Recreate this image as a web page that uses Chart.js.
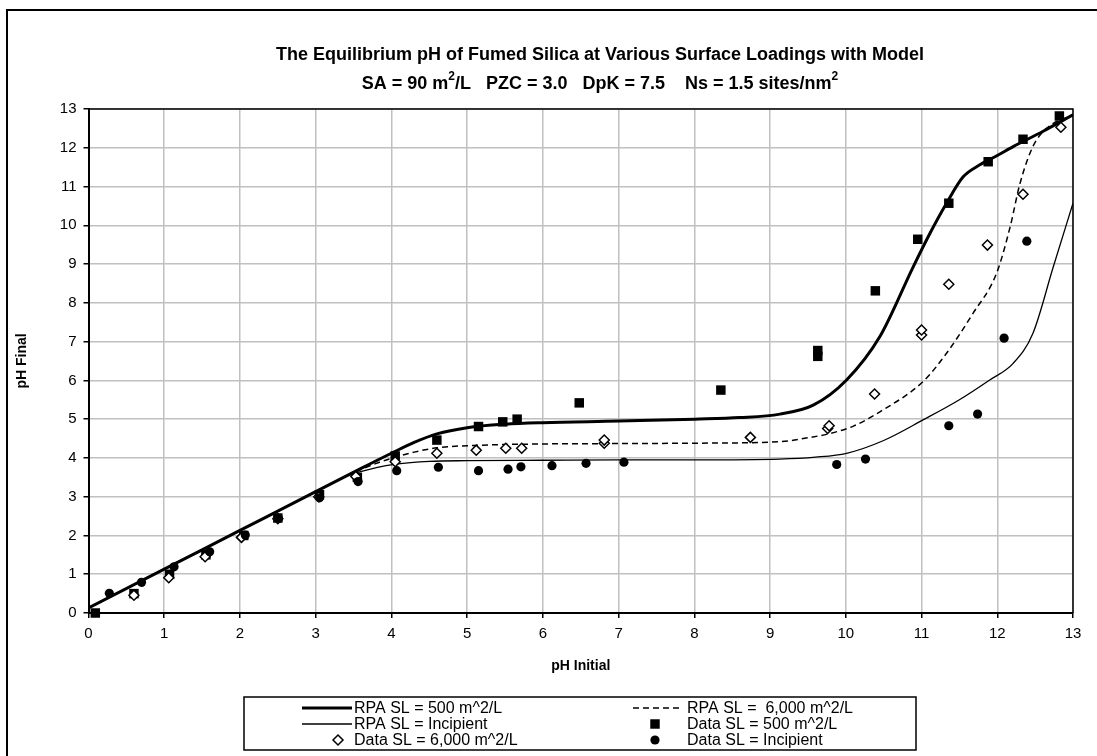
<!DOCTYPE html>
<html>
<head>
<meta charset="utf-8">
<title>Equilibrium pH of Fumed Silica</title>
<script src="https://cdn.jsdelivr.net/npm/chart.js@4.4.1/dist/chart.umd.min.js"></script>
<style>
  html, body { margin: 0; padding: 0; background: #fff; }
  #wrap { width: 1097px; height: 756px; }
</style>
</head>
<body>
<div id="wrap"><canvas id="chart" width="1097" height="756"></canvas></div>
<script>
// Textos
const titleLine = "The Equilibrium pH of Fumed Silica at Various Surface Loadings with Model";
const subtitleParts = [["SA = 90 m", false], ["2", true], ["/L   PZC = 3.0   DpK = 7.5    Ns = 1.5 sites/nm", false], ["2", true]];
const xTitle = "pH Initial";
const yTitle = "pH Final";
const tickValues = [0, 1, 2, 3, 4, 5, 6, 7, 8, 9, 10, 11, 12, 13];

// Curvas del modelo (RPA)
const rpa500X = [0, 1, 2, 3, 3.6, 4.0, 4.3, 4.6, 5.0, 5.5, 6.0, 7.0, 8.0, 8.6, 9.13, 9.57, 10.01, 10.45, 10.89, 11.11, 11.33, 11.55, 11.77, 12.0, 12.21, 12.6, 13];
const rpa500Y = [0.13, 1.13, 2.13, 3.13, 3.73, 4.12, 4.40, 4.62, 4.78, 4.87, 4.91, 4.95, 5.0, 5.04, 5.13, 5.36, 6.01, 7.13, 8.93, 9.79, 10.57, 11.25, 11.56, 11.8, 12.03, 12.42, 12.85];

const rpa6000X = [0, 1, 2, 3, 3.5, 3.8, 4.0, 4.3, 4.6, 5.2, 6.0, 7.0, 8.0, 9.13, 9.5, 9.79, 10.1, 10.45, 11.02, 11.33, 11.68, 11.99, 12.17, 12.3, 12.47, 12.65, 13];
const rpa6000Y = [0.13, 1.13, 2.13, 3.13, 3.62, 3.86, 3.99, 4.15, 4.26, 4.33, 4.36, 4.37, 4.38, 4.42, 4.52, 4.63, 4.82, 5.19, 5.97, 6.70, 7.73, 8.76, 9.96, 11.08, 12.03, 12.5, 12.85];

const rpaIncX = [0, 1, 2, 3, 3.45, 3.8, 4.06, 4.5, 5.0, 6.0, 7.0, 8.0, 9.13, 9.6, 10.01, 10.5, 11.02, 11.5, 11.9, 12.21, 12.47, 12.74, 13];
const rpaIncY = [0.13, 1.13, 2.13, 3.13, 3.56, 3.75, 3.84, 3.91, 3.93, 3.94, 3.95, 3.95, 3.97, 4.02, 4.12, 4.45, 4.98, 5.5, 6.01, 6.44, 7.21, 8.93, 10.57];

// Datos medidos
const data500X = [0.09, 0.6, 1.07, 1.55, 2.05, 2.5, 3.05, 3.55, 4.05, 4.6, 5.15, 5.47, 5.66, 6.48, 8.35, 9.63, 9.63, 10.39, 10.95, 11.36, 11.88, 12.34, 12.82];
const data500Y = [0, 0.5, 1.0, 1.5, 2.0, 2.45, 3.05, 3.5, 4.05, 4.46, 4.81, 4.93, 5.0, 5.42, 5.75, 6.62, 6.77, 8.31, 9.64, 10.57, 11.64, 12.22, 12.82];

const data6000X = [0.6, 1.06, 1.54, 2.02, 2.5, 3.04, 3.53, 4.05, 4.6, 5.12, 5.51, 5.72, 6.81, 6.81, 8.74, 9.76, 9.78, 10.38, 11.0, 11.0, 11.36, 11.87, 12.34, 12.84];
const data6000Y = [0.46, 0.91, 1.45, 1.95, 2.43, 3.0, 3.52, 3.90, 4.12, 4.20, 4.25, 4.25, 4.38, 4.46, 4.53, 4.76, 4.83, 5.65, 7.17, 7.30, 8.48, 9.49, 10.80, 12.53];

const dataIncX = [0.275, 0.70, 1.13, 1.60, 2.07, 2.51, 3.05, 3.56, 4.07, 4.62, 5.15, 5.54, 5.71, 6.12, 6.57, 7.07, 9.88, 10.26, 11.36, 11.74, 12.09, 12.39];
const dataIncY = [0.51, 0.79, 1.19, 1.58, 2.01, 2.44, 2.97, 3.39, 3.67, 3.76, 3.67, 3.71, 3.77, 3.80, 3.86, 3.89, 3.83, 3.97, 4.83, 5.13, 7.09, 9.59];

const pts = (xs, ys) => xs.map((x, i) => ({ x: x, y: ys[i] }));

const FONT = 'Arial, "Liberation Sans", sans-serif';
Chart.defaults.font.family = FONT;
Chart.defaults.color = '#000';

// Fondo y marco exterior
const framePlugin = {
    id: 'frame',
    beforeDraw(chart) {
        const ctx = chart.ctx;
        ctx.save();
        ctx.fillStyle = '#fff';
        ctx.fillRect(0, 0, chart.width, chart.height);
        ctx.strokeStyle = '#000';
        ctx.lineWidth = 2;
        ctx.strokeRect(7, 10, chart.width + 50, chart.height + 50);
        ctx.restore();
    },
    beforeDatasetsDraw(chart) {
        // borde superior y derecho del área del gráfico
        const a = chart.chartArea;
        const ctx = chart.ctx;
        ctx.save();
        ctx.strokeStyle = '#000';
        ctx.lineWidth = 1.5;
        ctx.beginPath();
        ctx.moveTo(a.left, a.top);
        ctx.lineTo(a.right, a.top);
        ctx.lineTo(a.right, a.bottom);
        ctx.stroke();
        ctx.restore();
    }
};

// Título con superíndices
const titlePlugin = {
    id: 'richTitle',
    afterDraw(chart) {
        const ctx = chart.ctx;
        const cx = 600;
        const big = 'bold 18px ' + FONT;
        const small = 'bold 12px ' + FONT;
        ctx.save();
        ctx.fillStyle = '#000';
        ctx.textBaseline = 'middle';
        ctx.textAlign = 'left';
        ctx.font = big;
        const w1 = ctx.measureText(titleLine).width;
        ctx.fillText(titleLine, cx - w1 / 2, 55);

        let total = 0;
        const widths = subtitleParts.map(p => {
            ctx.font = p[1] ? small : big;
            const w = ctx.measureText(p[0]).width;
            total += w;
            return w;
        });
        let x = cx - total / 2;
        subtitleParts.forEach((p, i) => {
            ctx.font = p[1] ? small : big;
            ctx.fillText(p[0], x, p[1] ? 77 : 84);
            x += widths[i];
        });
        ctx.restore();
    }
};

// Leyenda en dos columnas, como la de Excel
const legendPlugin = {
    id: 'excelLegend',
    afterDraw(chart) {
        const ctx = chart.ctx;
        const ds = chart.data.datasets;
        const box = { x: 244, y: 697, w: 672, h: 53 };
        const rows = [708, 724, 740];
        const cols = [{ s0: 302, s1: 352, mk: 338, tx: 354 }, { s0: 633, s1: 680, mk: 655, tx: 687 }];
        ctx.save();
        ctx.strokeStyle = '#000';
        ctx.lineWidth = 1.5;
        ctx.strokeRect(box.x, box.y, box.w, box.h);
        ctx.font = '16px ' + FONT;
        ctx.textBaseline = 'middle';
        ctx.textAlign = 'left';
        ds.forEach((d, i) => {
            const col = cols[i % 2];
            const y = rows[Math.floor(i / 2)];
            if (d.showLine) {
                ctx.strokeStyle = d.borderColor;
                ctx.lineWidth = d.borderWidth;
                ctx.setLineDash(d.borderDash || []);
                ctx.beginPath();
                ctx.moveTo(col.s0, y);
                ctx.lineTo(col.s1, y);
                ctx.stroke();
                ctx.setLineDash([]);
            } else {
                ctx.fillStyle = d.backgroundColor;
                ctx.strokeStyle = d.borderColor;
                ctx.lineWidth = d.borderWidth;
                Chart.helpers.drawPoint(ctx, { pointStyle: d.pointStyle, radius: d.pointRadius, rotation: 0, borderWidth: d.borderWidth }, col.mk, y);
            }
            ctx.fillStyle = '#000';
            ctx.fillText(d.label, col.tx, y + 1);
        });
        ctx.restore();
    }
};

const useTicks = scale => { scale.ticks = tickValues.map(v => ({ value: v })); };

new Chart(document.getElementById('chart'), {
    type: 'scatter',
    data: {
        datasets: [
            { label: 'RPA SL = 500 m^2/L', data: pts(rpa500X, rpa500Y), showLine: true, borderColor: '#000', borderWidth: 3, pointRadius: 0, cubicInterpolationMode: 'monotone', order: 6 },
            { label: 'RPA SL =  6,000 m^2/L', data: pts(rpa6000X, rpa6000Y), showLine: true, borderColor: '#000', borderWidth: 1.5, borderDash: [6, 4], pointRadius: 0, cubicInterpolationMode: 'monotone', order: 5 },
            { label: 'RPA SL = Incipient', data: pts(rpaIncX, rpaIncY), showLine: true, borderColor: '#000', borderWidth: 1.3, pointRadius: 0, cubicInterpolationMode: 'monotone', order: 4 },
            { label: 'Data SL = 500 m^2/L', data: pts(data500X, data500Y), showLine: false, pointStyle: 'rect', pointRadius: 6.7, backgroundColor: '#000', borderColor: '#000', borderWidth: 0, clip: false, order: 3 },
            { label: 'Data SL = 6,000 m^2/L', data: pts(data6000X, data6000Y), showLine: false, pointStyle: 'rectRot', pointRadius: 5, backgroundColor: '#fff', borderColor: '#000', borderWidth: 1.5, clip: false, order: 2 },
            { label: 'Data SL = Incipient', data: pts(dataIncX, dataIncY), showLine: false, pointStyle: 'circle', pointRadius: 4.6, backgroundColor: '#000', borderColor: '#000', borderWidth: 0, clip: false, order: 1 }
        ]
    },
    options: {
        responsive: false,
        animation: false,
        events: [],
        layout: { padding: { top: 109, right: 24, bottom: 77, left: 0 } },
        plugins: {
            legend: { display: false },
            title: { display: false },
            tooltip: { enabled: false }
        },
        scales: {
            x: {
                type: 'linear',
                min: 0,
                max: 13,
                afterBuildTicks: useTicks,
                afterFit(s) { s.height = 66; s.paddingLeft = 0; s.paddingRight = 0; s.paddingTop = 0; s.paddingBottom = 0; },
                ticks: { font: { size: 15 }, padding: 7, maxRotation: 0 },
                grid: { color: '#c0c0c0', lineWidth: 1.5, tickColor: '#000', tickLength: 5, tickWidth: 1.5 },
                border: { color: '#000', width: 2 },
                title: { display: true, text: xTitle, font: { size: 14, weight: 'bold' }, padding: { top: 0, bottom: 4 } }
            },
            y: {
                type: 'linear',
                min: 0,
                max: 13,
                afterBuildTicks: useTicks,
                afterFit(s) { s.width = 88.5; s.paddingLeft = 0; s.paddingRight = 0; s.paddingTop = 0; s.paddingBottom = 0; },
                ticks: { font: { size: 15 }, padding: 7 },
                grid: { color: '#c0c0c0', lineWidth: 1.5, tickColor: '#000', tickLength: 5, tickWidth: 1.5 },
                border: { color: '#000', width: 2 },
                title: { display: true, text: yTitle, font: { size: 14, weight: 'bold' }, padding: { top: 14, bottom: 0 } }
            }
        }
    },
    plugins: [framePlugin, titlePlugin, legendPlugin]
});
</script>
</body>
</html>
